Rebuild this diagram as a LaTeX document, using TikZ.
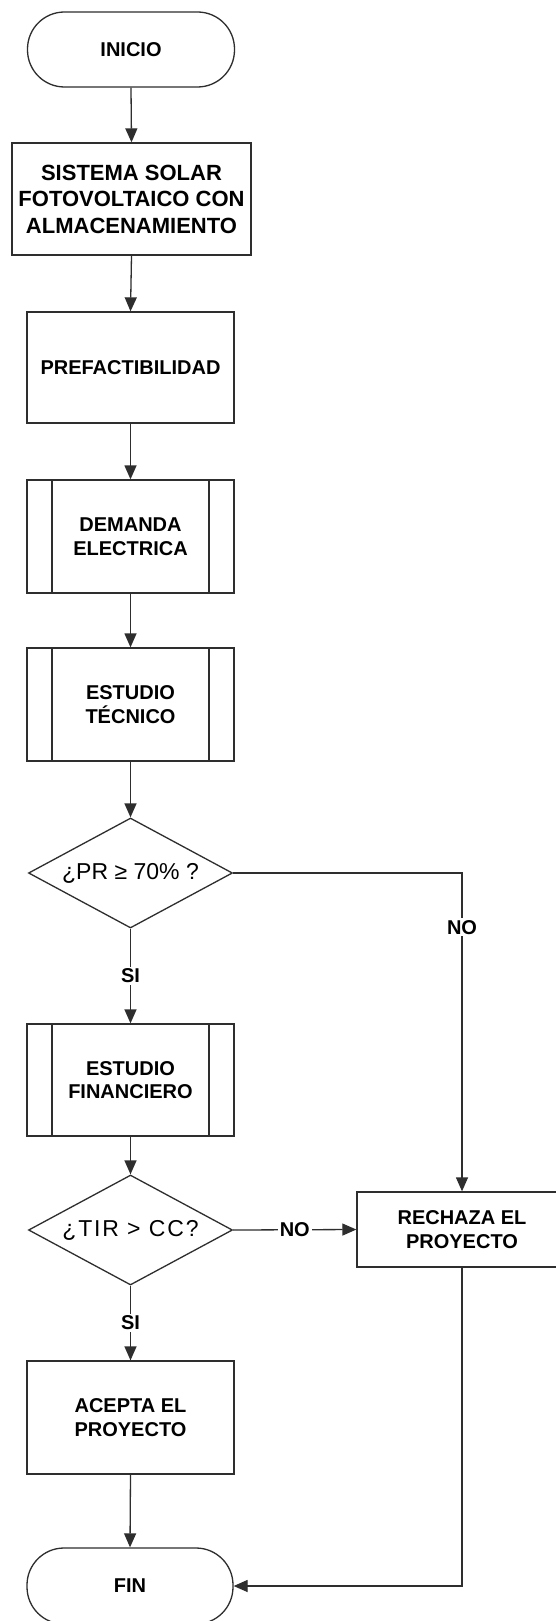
\documentclass[tikz,border=0pt]{standalone}
\usepackage{fontspec}
\setmainfont{Liberation Sans}
\newfontfamily\tirfont{Liberation Sans}[LetterSpace=8]
\usetikzlibrary{arrows.meta,shapes.geometric}
\definecolor{linec}{gray}{0.18}
\begin{document}
\begin{tikzpicture}[x=1pt,y=-1pt,
  boxtext/.style={font=\bfseries\fontsize{20pt}{23.5pt}\selectfont},
  proc/.style={boxtext, draw=linec, line width=1.3pt, rectangle, inner sep=0pt,
    align=center, minimum width=207pt, minimum height=112pt},
  subproc/.style={proc, path picture={
      \draw[linec, line width=1.3pt]
        ([xshift=25pt]path picture bounding box.north west) --
        ([xshift=25pt]path picture bounding box.south west);
      \draw[linec, line width=1.3pt]
        ([xshift=-25pt]path picture bounding box.north east) --
        ([xshift=-25pt]path picture bounding box.south east);}},
  term/.style={boxtext, draw=linec, line width=1.3pt, rectangle, rounded corners=37pt,
    inner sep=0pt, minimum width=207pt, minimum height=75pt},
  decision/.style={draw=linec, line width=1.3pt, diamond, shape aspect=1.855,
    inner sep=0pt, minimum width=204pt, minimum height=110pt,
    font=\fontsize{23pt}{26pt}\selectfont},
  conn/.style={draw=linec, line width=1.3pt, -{Triangle[length=14pt,width=12pt]}},
  lab/.style={fill=white, inner sep=2pt, font=\bfseries\fontsize{20pt}{23pt}\selectfont}]
\useasboundingbox (0,0) rectangle (556,1621);
\fill[white] (0,0) rectangle (556,1621);

\node[term] (inicio) at (131,49.5) {INICIO};
\node[proc, minimum width=239pt, font=\bfseries\fontsize{22pt}{26.5pt}\selectfont]
  (sistema) at (131.5,199) {SISTEMA SOLAR\\FOTOVOLTAICO CON\\ALMACENAMIENTO};
\node[proc, minimum height=111pt] (pref) at (130.5,367.5) {PREFACTIBILIDAD};
\node[subproc, minimum height=113pt] (dem) at (130.5,536.5) {DEMANDA\\ELECTRICA};
\node[subproc, minimum height=113pt] (tec) at (130.5,704.5) {ESTUDIO\\TÉCNICO};
\node[decision] (pr) at (130.5,873) {¿PR ≥ 70\% ?};
\node[subproc] (fina) at (130.5,1080) {ESTUDIO\\FINANCIERO};
\node[decision] (tir) at (130.5,1230) {\tirfont ¿TIR > CC?};
\node[proc, minimum height=113pt] (acep) at (130.5,1417.5) {ACEPTA EL\\PROYECTO};
\node[term, minimum width=206pt, minimum height=76pt] (fin) at (130,1586) {FIN};
\node[proc, minimum width=210pt, minimum height=75pt] (rech) at (462,1229.5) {RECHAZA EL\\PROYECTO};

\draw[conn] (inicio.south) -- (sistema.north);
\draw[conn] (sistema.south) -- (pref.north);
\draw[conn] (pref.south) -- (dem.north);
\draw[conn] (dem.south) -- (tec.north);
\draw[conn] (tec.south) -- (pr.north);
\draw[conn] (pr.south) -- node[lab] (si1) {SI} (fina.north);
\draw[conn] (pr.east) -| node[lab, pos=0.585] (no1) {NO} (rech.north);
\draw[conn] (fina.south) -- (tir.north);
\draw[conn] (tir.south) -- node[lab] (si2) {SI} (acep.north);
\draw[conn] (tir.east) -- node[lab] (no2) {NO} (rech.west);
\draw[conn] (acep.south) -- (fin.north);
\draw[conn] (rech.south) |- (fin.east);
\end{tikzpicture}
\end{document}
